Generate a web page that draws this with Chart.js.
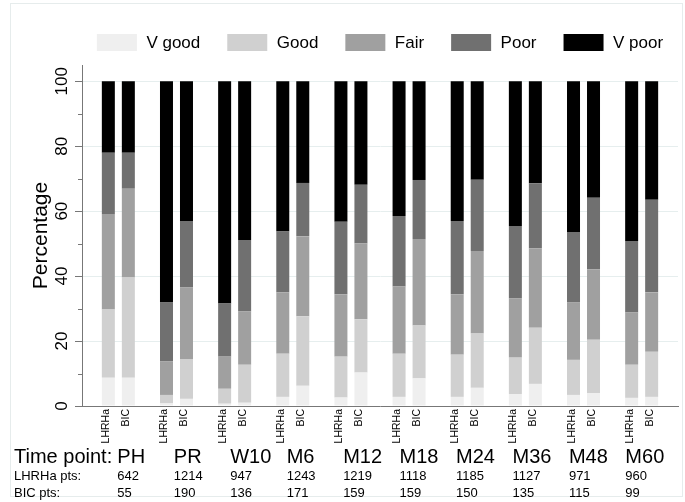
<!DOCTYPE html>
<html><head><meta charset="utf-8">
<script src="https://cdn.jsdelivr.net/npm/chart.js@4"></script>
<style>html,body{margin:0;padding:0;background:#fff}#wrap{width:685px;height:502px}</style>
</head><body><div id="wrap"><canvas id="c" width="685" height="502"></canvas></div>
<script>
const timePoints = ['PH','PR','W10','M6','M12','M18','M24','M36','M48','M60'];
const arms = ['LHRHa','BIC'];
const ratings = ['V good','Good','Fair','Poor','V poor'];
const yTicks = [0,20,40,60,80,100];
const yMinorTicks = [10,30,50,70,90];

// LHRHa arm (% per rating)
const lhrhaVGood = [8.7, 0.8, 0.7, 2.8, 2.6, 2.8, 2.8, 3.7, 3.4, 2.5];
const lhrhaGood  = [21.0, 2.6, 4.6, 13.3, 12.6, 13.3, 13.0, 11.2, 10.8, 10.2];
const lhrhaFair  = [29.4, 10.3, 9.9, 18.9, 19.2, 20.7, 18.6, 18.2, 17.7, 16.1];
const lhrhaPoor  = [18.9, 18.2, 16.4, 18.7, 22.3, 21.7, 22.6, 22.3, 21.7, 22.0];
const lhrhaVPoor = [22.0, 68.1, 68.4, 46.3, 43.3, 41.5, 43.0, 44.6, 46.4, 49.2];
// BIC arm (% per rating)
const bicVGood = [8.7, 2.2, 1.0, 6.2, 10.3, 8.5, 5.6, 6.8, 4.0, 2.8];
const bicGood  = [30.9, 12.1, 11.7, 21.4, 16.4, 16.3, 16.7, 17.3, 16.4, 13.9];
const bicFair  = [27.3, 22.2, 16.4, 24.7, 23.4, 26.6, 25.4, 24.5, 21.7, 18.3];
const bicPoor  = [11.1, 20.5, 22.0, 16.4, 18.0, 18.2, 22.0, 20.0, 22.0, 28.5];
const bicVPoor = [22.0, 43.0, 48.9, 31.3, 31.9, 30.4, 30.3, 31.4, 35.9, 36.5];

const lhrhaPts = [642, 1214, 947, 1243, 1219, 1118, 1185, 1127, 971, 960];
const bicPts   = [55, 190, 136, 171, 159, 159, 150, 135, 115, 99];

const colors = ['#efefef','#d0d0d0','#a0a0a0','#707070','#000000'];
const lhrhaSeries = [lhrhaVGood, lhrhaGood, lhrhaFair, lhrhaPoor, lhrhaVPoor];
const bicSeries = [bicVGood, bicGood, bicFair, bicPoor, bicVPoor];

const FONT = '"Liberation Sans", Arial, Helvetica, sans-serif';
Chart.defaults.font.family = FONT;

function makeDatasets(series, arm) {
  return series.map((vals, k) => ({
    label: ratings[k],
    stack: arm,
    backgroundColor: colors[k],
    borderWidth: 0,
    data: vals.map((v, i) => ({x: i, y: v}))
  }));
}
const datasets = makeDatasets(lhrhaSeries, arms[0]).concat(makeDatasets(bicSeries, arms[1]));

const decor = {
  id: 'decor',
  beforeDraw(chart) {
    const ctx = chart.ctx;
    ctx.save();
    ctx.strokeStyle = '#e6ecec';
    ctx.lineWidth = 1;
    ctx.strokeRect(10.5, 3.5, 672, 493);
    ctx.restore();
  },
  afterDraw(chart) {
    const ctx = chart.ctx, xs = chart.scales.x, ys = chart.scales.y;
    const ca = chart.chartArea;
    ctx.save();
    // minor ticks
    ctx.strokeStyle = '#777'; ctx.lineWidth = 1;
    ctx.beginPath();
    yMinorTicks.forEach(v => {
      const py = Math.round(ys.getPixelForValue(v)) + 0.5;
      ctx.moveTo(ca.left - 4, py); ctx.lineTo(ca.left, py);
    });
    ctx.stroke();
    // y tick labels (rotated)
    ctx.fillStyle = '#000';
    ctx.font = '17px ' + FONT;
    ctx.textAlign = 'center'; ctx.textBaseline = 'middle';
    yTicks.forEach(v => {
      ctx.save();
      ctx.translate(62, ys.getPixelForValue(v));
      ctx.rotate(-Math.PI / 2);
      ctx.fillText(String(v), 0, 0);
      ctx.restore();
    });
    // y title
    ctx.save();
    ctx.font = '21px ' + FONT;
    ctx.translate(41, (ca.top + ca.bottom) / 2);
    ctx.rotate(-Math.PI / 2);
    ctx.fillText('Percentage', 0, 0);
    ctx.restore();
    // legend
    ctx.font = '17px ' + FONT;
    const legendItems = chart.data.datasets.filter(d => d.stack === arms[0]);
    const boxW = 40, boxH = 17, textGap = 9.5, itemGap = 27;
    const widths = legendItems.map(d => boxW + textGap + ctx.measureText(d.label).width);
    const total = widths.reduce((a, b) => a + b, 0) + itemGap * (widths.length - 1);
    let lx = (ca.left + ca.right) / 2 - total / 2;
    const ly = 34;
    ctx.textAlign = 'left'; ctx.textBaseline = 'middle';
    legendItems.forEach((d, k) => {
      ctx.fillStyle = d.backgroundColor;
      ctx.fillRect(lx, ly, boxW, boxH);
      ctx.fillStyle = '#000';
      ctx.fillText(d.label, lx + boxW + textGap, ly + boxH / 2 + 1);
      lx += widths[k] + itemGap;
    });
    // arm labels under bars
    ctx.font = '10.5px ' + FONT;
    ctx.textAlign = 'right'; ctx.textBaseline = 'alphabetic';
    const metaL = chart.getDatasetMeta(0), metaB = chart.getDatasetMeta(5);
    timePoints.forEach((tp, i) => {
      [[metaL, arms[0]], [metaB, arms[1]]].forEach(([meta, name]) => {
        const bx = meta.data[i].x;
        ctx.save();
        ctx.translate(bx + 1, 409);
        ctx.rotate(-Math.PI / 2);
        ctx.fillText(name, 0, 0);
        ctx.restore();
      });
    });
    // bottom rows
    ctx.textAlign = 'left'; ctx.textBaseline = 'middle';
    ctx.font = '20px ' + FONT;
    ctx.fillText('Time point:', 14, 457);
    ctx.font = '13px ' + FONT;
    ctx.fillText('LHRHa pts:', 14, 476);
    ctx.fillText('BIC pts:', 14, 493);
    timePoints.forEach((tp, i) => {
      const left = xs.getPixelForValue(i) - 1 - i * 1.7;
      ctx.font = '20px ' + FONT;
      ctx.fillText(tp, left, 457);
      ctx.font = '13px ' + FONT;
      ctx.fillText(String(lhrhaPts[i]), left, 476);
      ctx.fillText(String(bicPts[i]), left, 493);
    });
    ctx.restore();
  }
};

new Chart(document.getElementById('c'), {
  type: 'bar',
  data: { datasets },
  plugins: [decor],
  options: {
    responsive: false,
    animation: false,
    layout: { padding: { top: 65, right: 7, left: 0, bottom: 0 } },
    categoryPercentage: 0.688,
    barPercentage: 0.65,
    plugins: { legend: { display: false }, tooltip: { enabled: false }, title: { display: false } },
    scales: {
      x: {
        type: 'linear', min: -0.625, max: 9.625, offset: false,
        afterBuildTicks(s) { s.ticks = timePoints.map((t, i) => ({ value: i })); },
        ticks: { display: false },
        grid: { display: true, color: 'rgba(0,0,0,0)', drawTicks: false, offset: false },
        border: { display: true, color: '#777', width: 1 },
        afterFit(s) { s.height = 96; }
      },
      y: {
        min: 0, max: 105, stacked: true,
        afterBuildTicks(s) { s.ticks = yTicks.map(v => ({ value: v })); },
        ticks: { display: false },
        grid: { color: '#e6eeee', drawTicks: true, tickLength: 7, tickColor: '#777' },
        border: { display: true, color: '#777', width: 1 },
        afterFit(s) { s.width = 82; }
      }
    }
  }
});
</script></body></html>
